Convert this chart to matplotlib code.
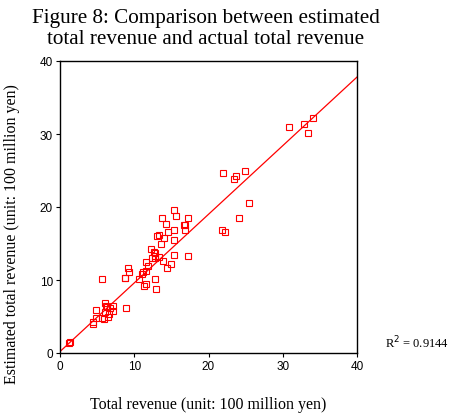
import matplotlib
matplotlib.use("Agg")
import matplotlib.pyplot as plt
import numpy as np

# Actual total revenue (100 million yen) and model estimate for each entity
actual = [1.2, 1.3, 4.5, 4.5, 4.8, 4.9, 5.6, 5.9, 5.7, 6.0, 6.1, 6.2, 6.3, 6.5, 6.6,
          6.7, 7.2, 7.2, 8.9, 8.7, 8.8, 9.1, 9.3, 10.6, 11.1, 11.2, 11.3, 11.6, 11.6,
          11.6, 11.8, 12.3, 12.4, 12.7, 12.8, 12.8, 12.8, 12.8, 12.9, 13.1, 13.3, 13.4,
          13.6, 13.7, 13.9, 14.0, 14.3, 14.4, 14.5, 15.0, 15.3, 15.3, 15.3, 15.4, 15.6,
          16.7, 16.8, 16.9, 17.3, 17.3, 21.8, 22.0, 22.2, 23.5, 23.7, 24.1, 24.9, 25.4,
          30.9, 32.8, 33.4, 34.1]
estimated = [1.4, 1.5, 4.3, 4.0, 5.9, 4.8, 4.8, 4.6, 10.2, 5.6, 6.9, 6.5, 6.3, 5.0, 5.3,
             6.1, 6.4, 5.7, 6.1, 10.3, 10.3, 11.7, 11.1, 10.1, 10.8, 11.1, 9.2, 12.5, 11.3,
             9.5, 11.9, 14.2, 13.0, 13.8, 13.7, 13.3, 13.0, 10.2, 8.7, 16.0, 16.1, 13.1,
             14.9, 18.5, 12.6, 15.8, 17.7, 11.6, 16.6, 12.2, 19.6, 16.8, 13.4, 15.5, 18.8,
             17.6, 17.6, 16.8, 18.5, 13.3, 16.8, 24.6, 16.6, 23.9, 24.2, 18.5, 25.0, 20.6,
             30.9, 31.4, 30.2, 32.2]

# Fitted regression line
intercept = 0.2
slope = 0.94
r_squared = 0.9144

x_ticks = [0, 10, 20, 30, 40]
y_ticks = [0, 10, 20, 30, 40]

serif = ["Liberation Serif", "DejaVu Serif"]
sans = ["Liberation Sans", "DejaVu Sans"]

fig = plt.figure(figsize=(4.51, 4.14), dpi=100)
ax = fig.add_axes([60 / 451, 1 - 354 / 414, 297 / 451, 292 / 414])

red = "#ff0000"
ax.plot(actual, estimated, linestyle="none", marker="s", markersize=3.8,
        markerfacecolor="none", markeredgecolor=red, markeredgewidth=0.8)
xs = np.array([0, 40])
ax.plot(xs, intercept + slope * xs, color=red, linewidth=0.9)

ax.set_xlim(0, 40)
ax.set_ylim(0, 40)
ax.set_xticks(x_ticks)
ax.set_yticks(y_ticks)
ax.set_xticklabels([str(t) for t in x_ticks], family=sans, fontsize=8.5)
ax.set_yticklabels([str(t) for t in y_ticks], family=sans, fontsize=8.5)
ax.tick_params(direction="out", length=3, width=0.8, pad=2, colors="black")
for s in ax.spines.values():
    s.set_linewidth(1.0)
    s.set_color("black")

fig.text(206 / 451, 1 - 29 / 414,
         "Figure 8: Comparison between estimated\ntotal revenue and actual total revenue",
         ha="center", va="center", family=serif, fontsize=15.2, linespacing=1.2)
fig.text(208 / 451, 1 - 405 / 414, "Total revenue (unit: 100 million yen)",
         ha="center", va="center", family=serif, fontsize=11.5)
fig.text(12 / 451, 1 - 234 / 414, "Estimated total revenue (unit: 100 million yen)",
         ha="center", va="center", rotation=90, family=serif, fontsize=11.5)
fig.text(385 / 451, 1 - 343 / 414, "R$^2$ = %.4f" % r_squared,
         ha="left", va="center", family=serif, fontsize=9)

fig.savefig("out.png", dpi=100)
